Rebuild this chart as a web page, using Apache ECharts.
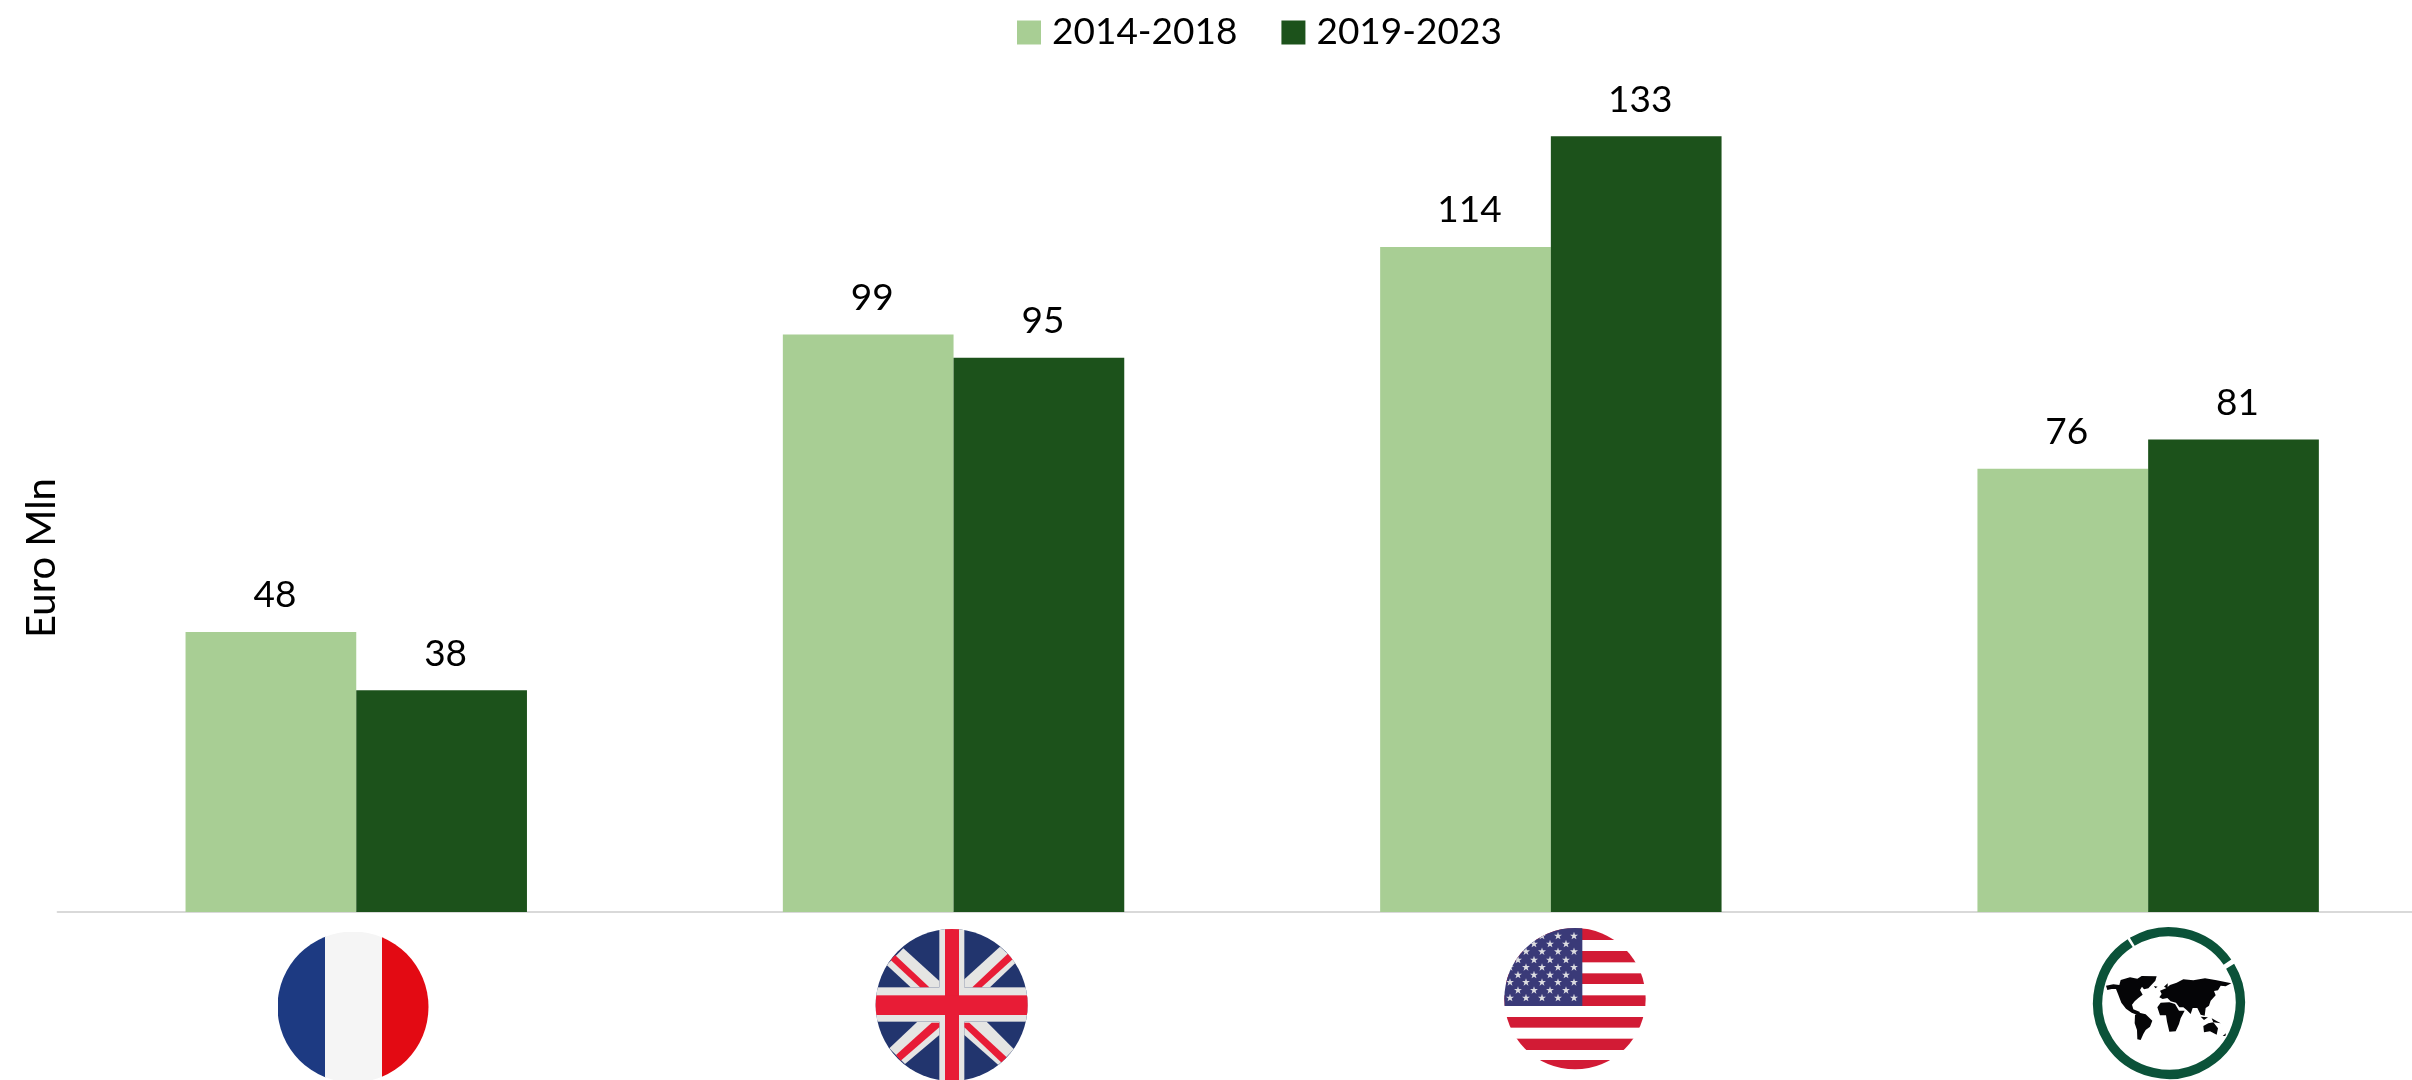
<!DOCTYPE html>
<html><head><meta charset="utf-8">
<style>html,body{margin:0;padding:0;background:#fff;overflow:hidden}#c{width:2412px;height:1080px}</style>
<script src="https://cdn.jsdelivr.net/npm/echarts@6/dist/echarts.min.js"></script>
</head><body><div id="c"></div>
<script>
const categories = ['France', 'United Kingdom', 'United States', 'World'];
const seriesNames = ['2014-2018', '2019-2023'];
const values2014to2018 = [48, 99, 114, 76];
const values2019to2023 = [38, 95, 133, 81];
const axisTitle = 'Euro Mln';

const FONT = 'Lato';
const LIGHT = '#A8CE94';
const DARK = '#1C521B';

function uri(svg){ return 'data:image/svg+xml;charset=utf-8,' + encodeURIComponent(svg); }
function wrap(w, h, cx, cy, r, body){
  return `<svg xmlns="http://www.w3.org/2000/svg" width="${w}" height="${h}" viewBox="0 0 ${w} ${h}"><defs><clipPath id="k"><circle cx="${cx}" cy="${cy}" r="${r}"/></clipPath></defs><g clip-path="url(#k)">${body}</g></svg>`;
}
const franceSvg = wrap(151, 151, 75.5, 75.5, 75.5,
  '<rect x="0" y="0" width="48" height="151" fill="#1D3A82"/>' +
  '<rect x="47.5" y="0" width="57.5" height="151" fill="#F5F5F5"/>' +
  '<rect x="104.5" y="0" width="47" height="151" fill="#E30A13"/>');

const ukSvg = wrap(495, 480, 245, 255, 228,
  '<rect width="495" height="510" fill="#22356E"/>' +
  '<g fill="#E5E5E3">' +
  '<polygon points="100,85 208,183 208,202 122,202 50,135"/>' +
  '<polygon points="390,80 283,178 283,202 360,202 440,125"/>' +
  '<polygon points="142,305 208,305 208,345 105,432 58,385"/>' +
  '<polygon points="283,305 350,305 432,388 385,435 283,345"/>' +
  '<rect x="208" y="0" width="75" height="510"/><rect x="0" y="202" width="495" height="103"/></g>' +
  '<g fill="#E81C36">' +
  '<polygon points="75,105 178,202 150,202 62,120"/>' +
  '<polygon points="415,100 307,202 335,202 428,118"/>' +
  '<polygon points="185,308 208,308 208,322 92,422 78,405"/>' +
  '<polygon points="283,308 298,308 410,412 395,428 283,322"/>' +
  '<rect x="225" y="0" width="42" height="510"/><rect x="0" y="226" width="495" height="59"/></g>');

function star(x, y){
  let p = [];
  for (let i = 0; i < 10; i++) {
    const r = i % 2 ? 5 : 12.5, a = -Math.PI / 2 + i * Math.PI / 5;
    p.push((x + r * Math.cos(a)).toFixed(1) + ',' + (y + r * Math.sin(a)).toFixed(1));
  }
  return `<polygon points="${p.join(' ')}" fill="#DCDCE0"/>`;
}
let usBody = '<rect width="480" height="480" fill="#fff"/>';
[25, 93, 160, 226, 291, 356, 420].forEach((y, i) => {
  usBody += `<rect x="0" y="${y}" width="480" height="${[35, 34, 32, 32, 32, 34, 34][i]}" fill="#D21B35"/>`;
});
usBody += '<rect x="0" y="0" width="262" height="258" fill="#3A3A78"/>';
[48, 72, 95, 120, 142, 165, 187, 211, 234].forEach((y, i) => {
  (i % 2 === 0 ? [45, 93, 141, 189, 237] : [69, 117, 165, 213]).forEach(x => { usBody += star(x, y); });
});
const usSvg = wrap(480, 480, 240, 236, 212, usBody);

const arc = (a0, a1) => {
  const pt = a => [267 + 214 * Math.sin(a * Math.PI / 180), 249 - 214 * Math.cos(a * Math.PI / 180)];
  const [x0, y0] = pt(a0), [x1, y1] = pt(a1);
  return `M${x0.toFixed(1)},${y0.toFixed(1)} A214,214 0 ${Math.abs(a1 - a0) > 180 ? 1 : 0} 1 ${x1.toFixed(1)},${y1.toFixed(1)}`;
};
const worldSvg = `<svg xmlns="http://www.w3.org/2000/svg" width="540" height="480" viewBox="0 0 540 480">` +
  `<g fill="none" stroke="#0B5239" stroke-width="28"><path d="${arc(-31, 55)}"/><path d="${arc(59, 327)}"/></g>` +
  `<g fill="#050507">` +
  `<path d="M78,197 L100,193 L118,195 L122,180 L150,172 L172,176 L185,168 L230,169 L226,182 L205,205 L192,208 L186,200 L180,210 L188,224 L175,234 L164,244 L156,254 L160,268 L180,276 L174,286 L155,278 L138,266 L124,248 L114,222 L108,207 L95,207 L82,210 Z"/>` +
  `<path d="M165,285 L178,278 L197,283 L217,302 L210,320 L197,330 L190,342 L182,360 L172,358 L171,330 L164,310 Z"/>` +
  `<path d="M232,262 L242,248 L268,247 L285,252 L297,272 L314,272 L302,295 L297,312 L287,334 L268,335 L261,305 L258,286 L240,286 Z"/>` +
  `<path d="M238,232 L245,222 L240,212 L258,205 L270,195 L290,188 L310,178 L340,181 L375,175 L410,181 L454,190 L437,199 L422,197 L414,211 L402,213 L407,226 L392,242 L387,257 L377,264 L374,287 L362,284 L352,264 L338,264 L332,282 L320,270 L310,262 L298,262 L288,248 L272,244 L262,234 L248,237 Z"/>` +
  `<path d="M370,318 L385,310 L400,307 L414,325 L410,344 L390,334 L372,337 Z"/>` +
  `<path d="M362,290 L384,292 L372,300 Z M395,295 L422,310 L400,307 Z M428,348 L438,340 L436,348 Z M252,200 L263,190 L263,206 Z M222,198 L233,200 L226,205 Z"/>` +
  `</g></svg>`;

const chart = echarts.init(document.getElementById('c'), null, {renderer: 'canvas'});
const icon = (svg, x, y, width, height) => ({
  type: 'image', x, y, silent: true,
  style: {image: uri(svg), x: 0, y: 0, width, height}
});
const labelStyle = {show: true, position: 'top', distance: 18, offset: [4, 0], color: '#000', fontFamily: FONT, fontSize: 37,
  formatter: p => String(p.value)};

chart.setOption({
  animation: false,
  backgroundColor: '#fff',
  textStyle: {fontFamily: FONT},
  legend: {
    data: seriesNames, top: 14, left: 1017, padding: 0, icon: 'rect', itemWidth: 24, itemHeight: 24, itemGap: 44,
    textStyle: {fontFamily: FONT, fontSize: 37, color: '#000', padding: [0, 0, 4, 6]},
    selectedMode: false
  },
  grid: {left: 57.6, top: 37, width: 2389.2, height: 875, containLabel: false, outerBoundsMode: 'none'},
  xAxis: {
    type: 'category', data: categories,
    axisLine: {show: true, lineStyle: {color: '#D9D9D9', width: 2}},
    axisTick: {show: false}, axisLabel: {show: false}, splitLine: {show: false}
  },
  yAxis: {type: 'value', min: 0, max: 150, show: false},
  series: [
    {name: seriesNames[0], type: 'bar', data: values2014to2018, barWidth: '28.58%', barGap: '0%',
     itemStyle: {color: LIGHT}, label: labelStyle},
    {name: seriesNames[1], type: 'bar', data: values2019to2023, barWidth: '28.58%', barGap: '0%',
     itemStyle: {color: DARK}, label: labelStyle}
  ],
  graphic: [
    {type: 'text', x: 42, y: 558, rotation: Math.PI / 2, silent: true,
     style: {text: axisTitle, x: 0, y: 0, align: 'center', verticalAlign: 'middle', fontFamily: FONT, fontSize: 40, fill: '#000'}},
    icon(franceSvg, 277.5, 931.5, 151, 151),
    icon(ukSvg, 870, 920, 165, 160),
    icon(usSvg, 1495, 920, 160, 160),
    icon(worldSvg, 2080, 920, 180, 160)
  ]
});
</script></body></html>
